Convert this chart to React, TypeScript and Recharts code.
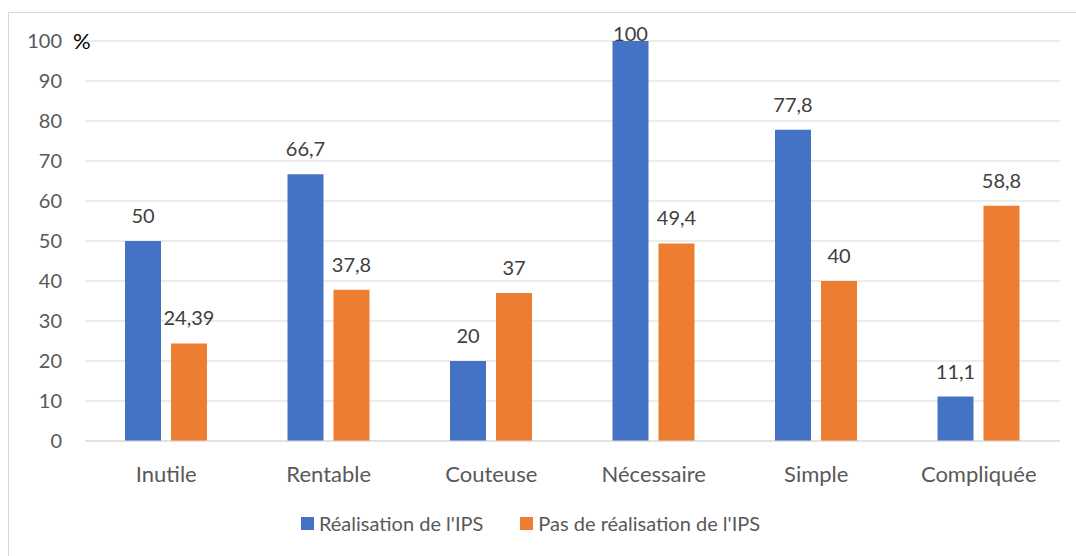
import React from "react";
import { Bar, BarChart, CartesianGrid, LabelList, Legend, XAxis, YAxis } from "recharts";

const categories = ["Inutile", "Rentable", "Couteuse", "Nécessaire", "Simple", "Compliquée"];
const realisation = [50, 66.7, 20, 100, 77.8, 11.1];
const pasRealisation = [24.39, 37.8, 37, 49.4, 40, 58.8];
const yTicks = [0, 10, 20, 30, 40, 50, 60, 70, 80, 90, 100];
const seriesOrder = ["realisation", "pasRealisation"];

const data = categories.map((name, i) => ({
  name,
  realisation: realisation[i],
  pasRealisation: pasRealisation[i],
}));

const FONT = "Lato, 'Open Sans', sans-serif";
const BLUE = "#4472C4";
const ORANGE = "#ED7D31";
const TOP = 28;

const fmt = (v: number) => String(v).replace(".", ",");

const ValueLabel = (props: any) => {
  const { x, y, width, value } = props;
  let by = y - 18;
  if (by < TOP) by = y;
  return (
    <text x={x + width / 2} y={by} textAnchor="middle" fill="#404040" fontSize={20} fontFamily={FONT}>
      {fmt(value)}
    </text>
  );
};

const PercentLabel = (props: any) => {
  const vb = props.viewBox;
  return (
    <text x={vb.x + vb.width - 12} y={vb.y + 8} fill="#000" fontSize={22} fontFamily={FONT}>
      %
    </text>
  );
};

const LegendContent = (props: any) => {
  const items = [...(props.payload || [])].sort(
    (a: any, b: any) => seriesOrder.indexOf(a.dataKey) - seriesOrder.indexOf(b.dataKey)
  );
  return (
    <div style={{ display: "flex", justifyContent: "center", paddingRight: 8, fontFamily: FONT, fontSize: 20, color: "#595959", lineHeight: "24px" }}>
      {items.map((it: any, i: number) => (
        <div key={i} style={{ display: "flex", alignItems: "center", marginLeft: i ? 37 : 0 }}>
          <span style={{ width: 13, height: 13, background: it.color, marginRight: 5, display: "inline-block" }} />
          <span>{it.value}</span>
        </div>
      ))}
    </div>
  );
};

export default function App() {
  return (
    <div style={{ position: "fixed", left: 0, top: 0, width: 1076, height: 556, overflow: "hidden", background: "#fff" }}>
      <div style={{ position: "absolute", left: 8, top: 12, width: 1080, height: 560, border: "1px solid #d9d9d9" }}>
        <BarChart
          width={1060}
          height={540}
          data={data}
          margin={{ top: TOP, right: 9, bottom: 0, left: 0 }}
          barGap={10}
          barSize={36}
        >
          <CartesianGrid vertical={false} stroke="#d9d9d9" strokeWidth={1} />
          <XAxis
            dataKey="name"
            axisLine={{ stroke: "#d9d9d9" }}
            tickLine={false}
            tickSize={0}
            tickMargin={25}
            height={70}
            tick={{ fill: "#595959", fontSize: 22, fontFamily: FONT }}
          />
          <YAxis
            domain={[0, 100]}
            ticks={yTicks}
            axisLine={false}
            tickLine={false}
            tickSize={0}
            tickMargin={23}
            width={76}
            tick={{ fill: "#595959", fontSize: 20, fontFamily: FONT }}
            label={<PercentLabel />}
          />
          <Legend verticalAlign="bottom" height={42} content={<LegendContent />} />
          <Bar dataKey="realisation" name="Réalisation de l'IPS" fill={BLUE} isAnimationActive={false}>
            <LabelList dataKey="realisation" content={<ValueLabel />} />
          </Bar>
          <Bar dataKey="pasRealisation" name="Pas de réalisation de l'IPS" fill={ORANGE} isAnimationActive={false}>
            <LabelList dataKey="pasRealisation" content={<ValueLabel />} />
          </Bar>
        </BarChart>
      </div>
    </div>
  );
}
